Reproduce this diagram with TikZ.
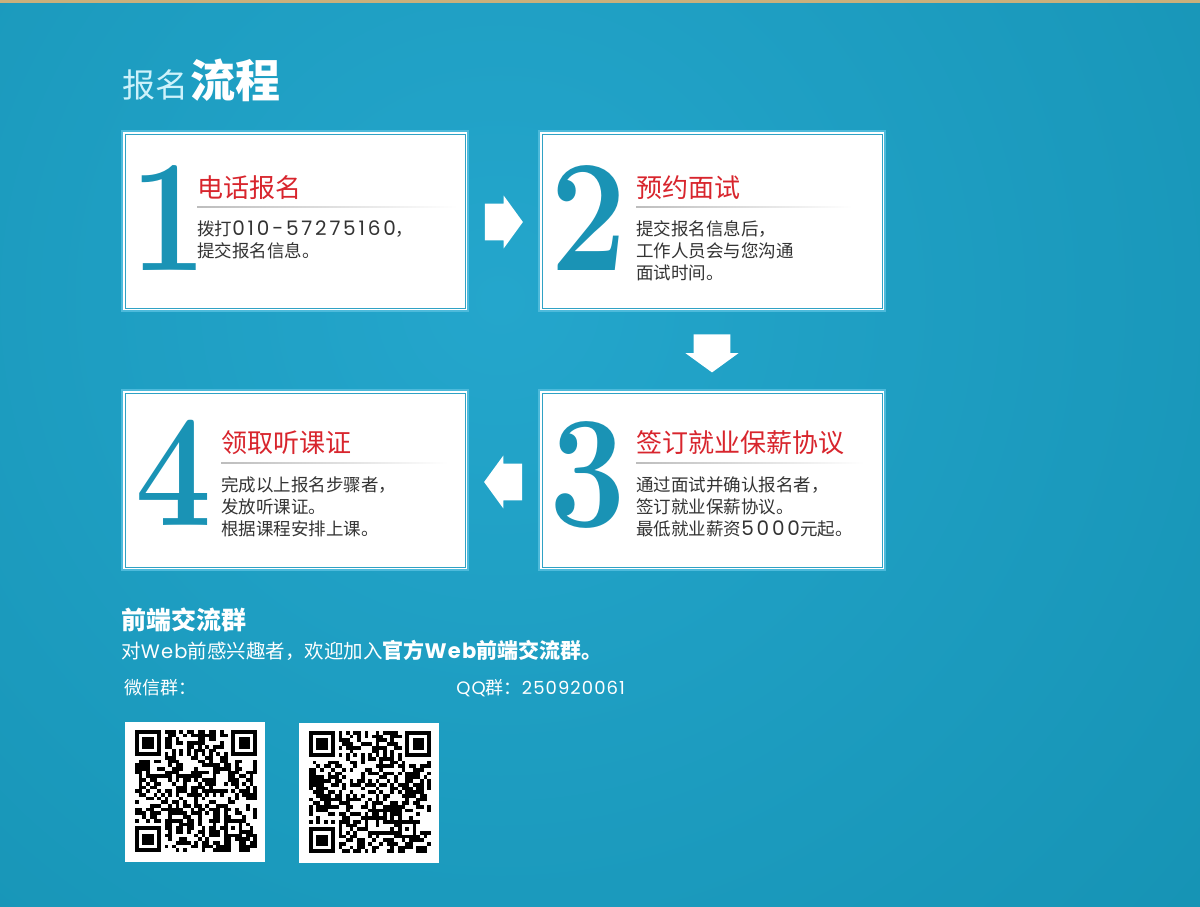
\documentclass[tikz,border=0pt]{standalone}
\usepackage{fontspec}
\usetikzlibrary{positioning,calc,shapes.arrows}

\newfontfamily\cjk{Noto Sans CJK SC}
\newfontfamily\gothic[LetterSpace=6]{Poppins}
\newfontfamily\gothicwide[LetterSpace=14]{Poppins}

\definecolor{bgblue}{HTML}{1592B3}
\definecolor{bgglow}{HTML}{24A6CC}
\definecolor{tanline}{HTML}{C9B07C}
\definecolor{numblue}{HTML}{1A93B5}
\definecolor{frameout}{HTML}{4DBADB}
\definecolor{framein}{HTML}{2FA2C5}
\definecolor{titlered}{HTML}{D8252D}
\definecolor{bodygray}{HTML}{333333}
\definecolor{sepgray}{HTML}{BDBDBD}
\definecolor{palecyan}{HTML}{CDF2FB}

% 1 px of the layout
\newcommand{\pxu}{0.5pt}
\newcommand{\numtxt}[1]{{\gothicwide\fontsize{10}{11}\selectfont #1}}

% QR-like pattern, 33 x 33 modules: x0, y0, seed
\newcommand{\qrmodules}[3]{%
  \pgfmathsetseed{#3}%
  \foreach \i in {0,...,32}{%
    \foreach \j in {0,...,32}{%
      \pgfmathtruncatemacro{\keep}{((\i<8 && \j<8) || (\i>24 && \j<8) || (\i<8 && \j>24) || (\i>23 && \i<29 && \j>23 && \j<29) || \i==6 || \j==6) ? 0 : 1}%
      \pgfmathrandominteger{\bit}{0}{1}%
      \ifnum\keep\bit=11 \fill (#1+\i*3.7,#2+\j*3.7) rectangle ++(3.75,3.75);\fi
    }%
  }%
  % timing
  \foreach \k in {8,10,...,24}{%
    \fill (#1+\k*3.7,#2+6*3.7) rectangle ++(3.75,3.75);
    \fill (#1+6*3.7,#2+\k*3.7) rectangle ++(3.75,3.75);
  }%
  % finder patterns
  \foreach \fx/\fy in {0/0,26/0,0/26}{%
    \fill (#1+\fx*3.7,#2+\fy*3.7) rectangle ++(25.9,25.9);
    \fill[white] (#1+\fx*3.7+3.7,#2+\fy*3.7+3.7) rectangle ++(18.5,18.5);
    \fill (#1+\fx*3.7+7.4,#2+\fy*3.7+7.4) rectangle ++(11.1,11.1);
  }%
  % alignment
  \fill (#1+24*3.7,#2+24*3.7) rectangle ++(18.5,18.5);
  \fill[white] (#1+25*3.7,#2+25*3.7) rectangle ++(11.1,11.1);
  \fill (#1+26*3.7,#2+26*3.7) rectangle ++(3.7,3.7);
}

\tikzset{
  stepbox/.style={draw=frameout, line width=2*\pxu, fill=white, inner sep=0pt,
    minimum width=346*\pxu, minimum height=180*\pxu},
  stepnum/.style={anchor=base west, inner sep=0pt, text=numblue, xscale=0.85,
    font=\bfseries\fontsize{80}{80}\selectfont},
  steptitle/.style={anchor=west, inner sep=0pt, text=titlered,
    font=\cjk\fontsize{13}{15}\selectfont},
  stepbody/.style={anchor=west, inner sep=0pt, text=bodygray, align=left,
    font=\cjk\fontsize{8.75}{11}\selectfont},
  blockarrow/.style={single arrow, fill=white, inner xsep=0pt, inner ysep=9pt,
    minimum height=19pt, single arrow head extend=4pt,
    single arrow tip angle=108, anchor=tail},
  qrbox/.style={fill=white, inner sep=0pt, minimum size=140*\pxu},
  foot/.style={anchor=west, inner sep=0pt, text=white}
}

\begin{document}
\begin{tikzpicture}[x=\pxu, y=-\pxu]
\useasboundingbox (0,0) rectangle (1200,906);

% Fond
\begin{scope}
  \clip (0,0) rectangle (1200,906);
  \fill[bgblue] (0,0) rectangle (1200,906);
  \shade[inner color=bgglow, outer color=bgblue] (500,300) circle (1000);
\end{scope}
\fill[tanline] (0,0) rectangle (1200,3);

% Titre
\node[anchor=base west, inner sep=0pt, text=palecyan, font=\cjk] (title) at (122,97)
  {{\fontsize{16.5}{18}\selectfont 报名}\hspace{1pt}{\color{white}\bfseries\fontsize{22.5}{24}\selectfont 流程}};

% Etapes
\node[stepbox] (s1) at (295,221) {};
\node[stepbox, right=34.5pt of s1] (s2) {};
\node[stepbox, below=38.5pt of s1] (s4) {};
\node[stepbox, right=34.5pt of s4] (s3) {};
\foreach \s in {s1,s2,s3,s4}
  \draw[framein, line width=1*\pxu] ([xshift=2pt,yshift=2pt]\s.south west) rectangle ([xshift=-2pt,yshift=-2pt]\s.north east);

% Chiffres
\node[stepnum] (n1) at (130,270) {1};
\node[stepnum] (n2) at (550,270) {2};
\node[stepnum] (n3) at (549,526) {3};
\node[stepnum] (n4) at (135,525) {4};

% Etape 1
\node[steptitle] (t1) at (197,187.5) {电话报名};
\shade[left color=sepgray, right color=white] (197,206) rectangle (457,207.2);
\node[stepbody] (d1) at (197,239.5) {拨打\numtxt{010-57275160}，\\提交报名信息。};

% Etape 2
\node[steptitle] (t2) at (636,187.5) {预约面试};
\shade[left color=sepgray, right color=white] (636,206) rectangle (852,207.2);
\node[stepbody] (d2) at (636,251) {提交报名信息后，\\工作人员会与您沟通\\面试时间。};

% Etape 3
\node[steptitle] (t3) at (636,442.5) {签订就业保薪协议};
\shade[left color=sepgray, right color=white] (636,462) rectangle (864,463.2);
\node[stepbody] (d3) at (636,506.5) {通过面试并确认报名者，\\签订就业保薪协议。\\最低就业薪资\numtxt{5000}元起。};

% Etape 4
\node[steptitle] (t4) at (221,442.5) {领取听课证};
\shade[left color=sepgray, right color=white] (221,462) rectangle (448,463.2);
\node[stepbody] (d4) at (221,506.5) {完成以上报名步骤者，\\发放听课证。\\根据课程安排上课。};

% Fleches
\node[blockarrow] (a12) at ($(s1.east)!0.5!(s2.west)+(-19,1)$) {};
\node[blockarrow, rotate=-90] (a23) at ($(s2.south)!0.5!(s3.north)+(0,-16.5)$) {};
\node[blockarrow, rotate=180] (a34) at ($(s3.west)!0.5!(s4.east)+(19,2)$) {};

% Groupe
\node[foot, font=\cjk\bfseries\fontsize{12.5}{14}\selectfont] (grp) at (121,620) {前端交流群};
\node[foot, font=\cjk\fontsize{9.75}{12}\selectfont] (join) at (121,650)
  {对{\gothic Web}前感兴趣者，欢迎加入{\bfseries\fontsize{10.5}{12}\selectfont 官方{\gothic Web}前端交流群。}};
\node[foot, font=\cjk\fontsize{9}{11}\selectfont] (wx) at (124,688) {微信群：};
\node[foot, font=\cjk\fontsize{9}{11}\selectfont] (qq) at (456,688) {{\gothic QQ}群：{\gothic 250920061}};

% Codes QR
\node[qrbox] (qr1) at (195,792) {};
\node[qrbox] (qr2) at (369,793) {};
\qrmodules{135}{730}{11}
\qrmodules{309}{731}{29}

\end{tikzpicture}
\end{document}
